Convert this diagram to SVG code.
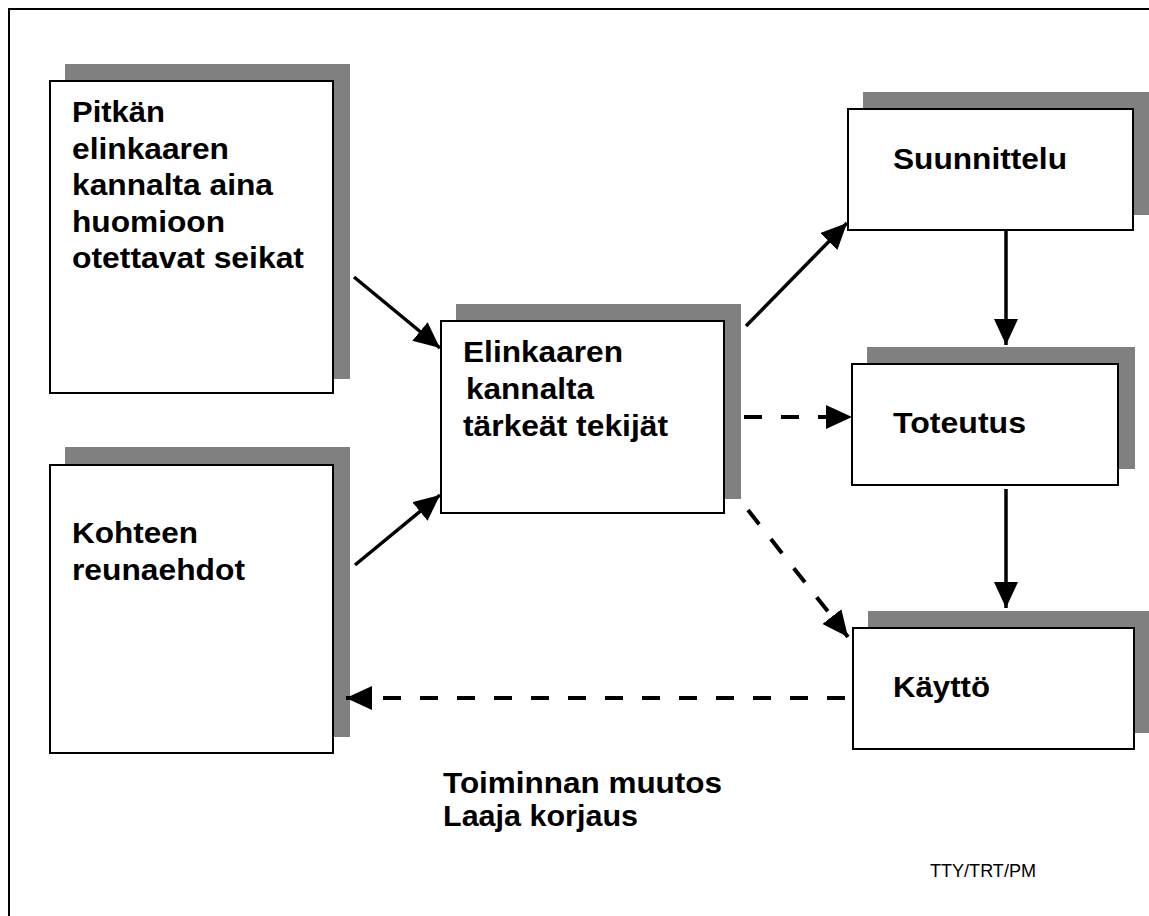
<svg xmlns="http://www.w3.org/2000/svg" width="1149" height="916" viewBox="0 0 1149 916">
<defs>
<style>
.shadow{fill:#808080;stroke:none}
.box{fill:#ffffff;stroke:#000000;stroke-width:2}
.t{font-family:"Liberation Sans",Arial,sans-serif;font-weight:bold;font-size:30px;fill:#000000}
.solid{fill:none;stroke:#000000;stroke-width:3.5}
.dash{fill:none;stroke:#000000;stroke-width:4;stroke-dasharray:18 19}
.frame{fill:none;stroke:#000000;stroke-width:2}
</style>
<marker id="ah" markerUnits="userSpaceOnUse" markerWidth="26" markerHeight="24" refX="26" refY="12" orient="auto" viewBox="0 0 26 24">
<path d="M0,0 L26,12 L0,24 z" fill="#000000"/>
</marker>
</defs>
<rect x="0" y="0" width="1149" height="916" fill="#ffffff"/>
<path class="frame" d="M9,916 L9,9 L1149,9"/>

<g id="node-pitkan">
<rect class="shadow" x="65" y="64" width="285" height="315"/>
<rect class="box" x="50" y="81" width="283" height="312"/>
<text class="t" x="72" y="122" textLength="93" lengthAdjust="spacingAndGlyphs">Pitkän</text>
<text class="t" x="72" y="158.5" textLength="157" lengthAdjust="spacingAndGlyphs">elinkaaren</text>
<text class="t" x="72" y="195" textLength="201" lengthAdjust="spacingAndGlyphs">kannalta aina</text>
<text class="t" x="72" y="231.5" textLength="153" lengthAdjust="spacingAndGlyphs">huomioon</text>
<text class="t" x="72" y="268" textLength="232" lengthAdjust="spacingAndGlyphs">otettavat seikat</text>
</g>

<g id="node-kohteen">
<rect class="shadow" x="65" y="447" width="285" height="290"/>
<rect class="box" x="50" y="465" width="283" height="288"/>
<text class="t" x="72" y="543" textLength="126" lengthAdjust="spacingAndGlyphs">Kohteen</text>
<text class="t" x="72" y="580" textLength="173" lengthAdjust="spacingAndGlyphs">reunaehdot</text>
</g>

<g id="node-elinkaaren">
<rect class="shadow" x="456" y="304" width="285" height="195"/>
<rect class="box" x="441" y="321" width="283" height="192"/>
<text class="t" x="463" y="362" textLength="160" lengthAdjust="spacingAndGlyphs">Elinkaaren</text>
<text class="t" x="466" y="399" textLength="128" lengthAdjust="spacingAndGlyphs">kannalta</text>
<text class="t" x="463" y="436" textLength="205" lengthAdjust="spacingAndGlyphs">tärkeät tekijät</text>
</g>

<g id="node-suunnittelu">
<rect class="shadow" x="863" y="92" width="286" height="123"/>
<rect class="box" x="848" y="109" width="285" height="121"/>
<text class="t" x="893" y="169" textLength="174" lengthAdjust="spacingAndGlyphs">Suunnittelu</text>
</g>

<g id="node-toteutus">
<rect class="shadow" x="867" y="347" width="268" height="122"/>
<rect class="box" x="852" y="364" width="266" height="121"/>
<text class="t" x="893" y="433" textLength="133" lengthAdjust="spacingAndGlyphs">Toteutus</text>
</g>

<g id="node-kayttö">
<rect class="shadow" x="868" y="611" width="281" height="122"/>
<rect class="box" x="853" y="628" width="281" height="121"/>
<text class="t" x="893" y="697" textLength="97" lengthAdjust="spacingAndGlyphs">Käyttö</text>
</g>

<g id="connectors">
<line class="solid" x1="354" y1="277" x2="440" y2="348" marker-end="url(#ah)"/>
<line class="solid" x1="355" y1="565" x2="440" y2="495" marker-end="url(#ah)"/>
<line class="solid" x1="746" y1="326" x2="847" y2="223" marker-end="url(#ah)"/>
<line class="solid" x1="1006" y1="230" x2="1006" y2="345" marker-end="url(#ah)"/>
<line class="solid" x1="1006" y1="489" x2="1006" y2="608" marker-end="url(#ah)"/>
<line class="dash" x1="744" y1="417" x2="852" y2="417" marker-end="url(#ah)"/>
<line class="dash" x1="748" y1="510" x2="848" y2="637" marker-end="url(#ah)"/>
<line class="dash" x1="845" y1="698" x2="346" y2="698" marker-end="url(#ah)"/>
</g>

<g id="labels">
<text class="t" x="443" y="793" textLength="279" lengthAdjust="spacingAndGlyphs">Toiminnan muutos</text>
<text class="t" x="443" y="826" textLength="195" lengthAdjust="spacingAndGlyphs">Laaja korjaus</text>
<text x="930" y="877" font-family="&quot;Liberation Sans&quot;,Arial,sans-serif" font-size="18" textLength="106" lengthAdjust="spacingAndGlyphs" fill="#000000">TTY/TRT/PM</text>
</g>
</svg>
